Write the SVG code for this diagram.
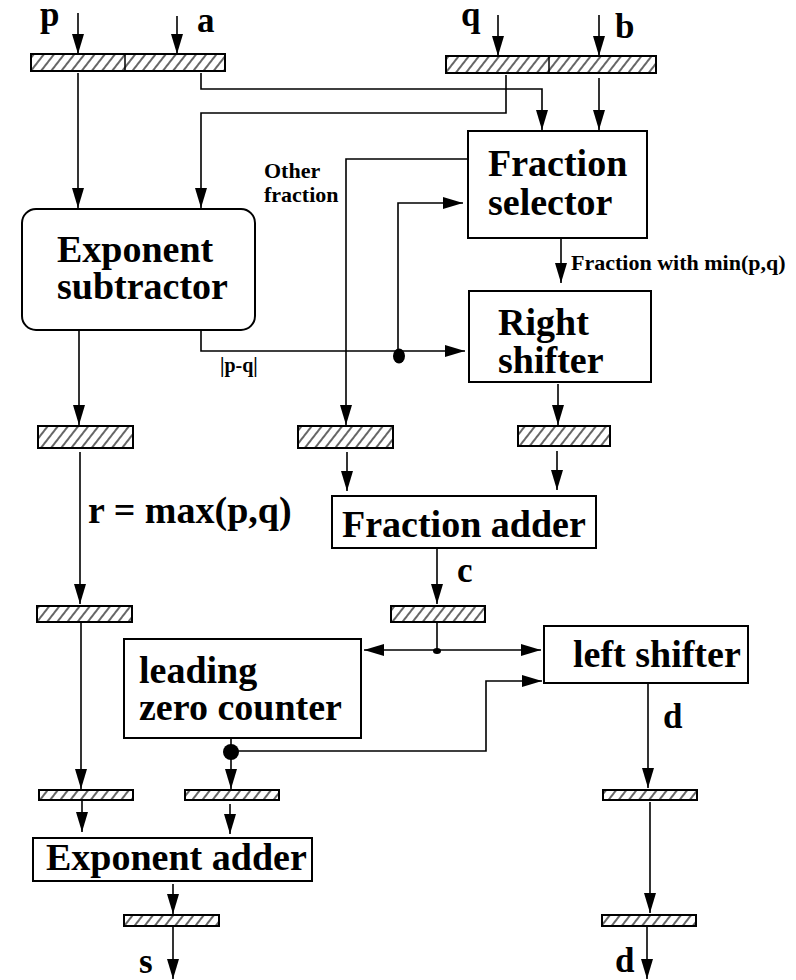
<svg xmlns="http://www.w3.org/2000/svg" width="796" height="980" viewBox="0 0 796 980">
  <style>
    .box { fill: #fff; stroke: #000; stroke-width: 2; }
    .reg { fill: url(#hatch); stroke: #000; stroke-width: 2; }
    .wire { fill: none; stroke: #000; stroke-width: 1.6; }
    .arr { marker-end: url(#head); }
    .t { font-family: "Liberation Serif", "Times New Roman", serif; font-weight: bold; fill: #000; }
    .big { font-size: 38px; }
    .lab { font-size: 35px; }
    .small { font-size: 22px; }
  </style>
  <defs>
    <pattern id="hatch" patternUnits="userSpaceOnUse" width="8" height="8" patternTransform="rotate(38)">
      <rect width="8" height="8" fill="#fff"/>
      <line x1="4" y1="0" x2="4" y2="8" stroke="#000" stroke-width="1.2"/>
    </pattern>
    <marker id="head" viewBox="0 0 20 12" refX="20" refY="6" markerWidth="20" markerHeight="12" markerUnits="userSpaceOnUse" orient="auto">
      <path d="M0,0 L20,6 L0,12 Z" fill="#000"/>
    </marker>
  </defs>

  <!-- pipeline registers -->
  <g id="registers">
    <g id="reg-pa"><rect class="reg" x="31" y="54" width="194" height="17"/><line x1="125" y1="54" x2="125" y2="71" stroke="#000" stroke-width="1.5"/></g>
    <g id="reg-qb"><rect class="reg" x="446" y="56" width="210" height="17"/><line x1="549" y1="56" x2="549" y2="73" stroke="#000" stroke-width="1.5"/></g>
    <g id="reg-exp"><rect class="reg" x="38" y="426" width="95" height="22"/></g>
    <g id="reg-other"><rect class="reg" x="298" y="426" width="95" height="22"/></g>
    <g id="reg-shift"><rect class="reg" x="518" y="426" width="92" height="20"/></g>
    <g id="reg-r"><rect class="reg" x="37" y="606" width="95" height="16"/></g>
    <g id="reg-c"><rect class="reg" x="391" y="606" width="94" height="16"/></g>
    <g id="reg-r2"><rect class="reg" x="39" y="790" width="94" height="10"/></g>
    <g id="reg-lz"><rect class="reg" x="185" y="790" width="94" height="10"/></g>
    <g id="reg-d1"><rect class="reg" x="603" y="790" width="94" height="10"/></g>
    <g id="reg-s"><rect class="reg" x="124" y="915" width="95" height="11"/></g>
    <g id="reg-d2"><rect class="reg" x="602" y="915" width="94" height="11"/></g>
  </g>

  <!-- functional units -->
  <g id="fraction-selector">
    <rect class="box" x="468" y="131" width="179" height="107"/>
    <text class="t big" x="488" y="176">Fraction</text>
    <text class="t big" x="488" y="215">selector</text>
  </g>
  <g id="exponent-subtractor">
    <rect class="box" x="22" y="209" width="233" height="121" rx="14" ry="14"/>
    <text class="t big" x="57" y="262">Exponent</text>
    <text class="t big" x="57" y="299">subtractor</text>
  </g>
  <g id="right-shifter">
    <rect class="box" x="469" y="291" width="182" height="91"/>
    <text class="t big" x="498" y="335">Right</text>
    <text class="t big" x="498" y="373">shifter</text>
  </g>
  <g id="fraction-adder">
    <rect class="box" x="332" y="496" width="264" height="52"/>
    <text class="t big" x="342" y="537">Fraction adder</text>
  </g>
  <g id="left-shifter">
    <rect class="box" x="544" y="626" width="204" height="57"/>
    <text class="t big" x="573" y="667">left shifter</text>
  </g>
  <g id="leading-zero-counter">
    <rect class="box" x="124" y="639" width="237" height="99"/>
    <text class="t big" x="139" y="683">leading</text>
    <text class="t big" x="139" y="720">zero counter</text>
  </g>
  <g id="exponent-adder">
    <rect class="box" x="33" y="838" width="279" height="43"/>
    <text class="t big" x="46" y="870">Exponent adder</text>
  </g>

  <!-- connectors -->
  <g id="connectors">
    <line class="wire arr" x1="78" y1="13" x2="78" y2="54"/>
    <line class="wire arr" x1="177" y1="16" x2="177" y2="54"/>
    <line class="wire arr" x1="498" y1="15" x2="498" y2="56"/>
    <line class="wire arr" x1="599" y1="15" x2="599" y2="56"/>

    <line class="wire arr" x1="78" y1="73" x2="78" y2="208"/>
    <polyline class="wire arr" points="201,73 201,89 542,89 542,130"/>
    <polyline class="wire arr" points="506,75 506,113 201,113 201,208"/>
    <line class="wire arr" x1="599" y1="78" x2="599" y2="130"/>

    <polyline class="wire arr" points="468,159 346,159 346,425"/>
    <line class="wire arr" x1="561" y1="238" x2="561" y2="283"/>

    <polyline class="wire arr" points="201,330 201,351 465,351"/>
    <polyline class="wire arr" points="398,356 398,203 463,203"/>
    <ellipse cx="399" cy="356" rx="6" ry="7.5" fill="#000"/>

    <line class="wire arr" x1="79" y1="330" x2="79" y2="425"/>
    <line class="wire arr" x1="558" y1="384" x2="558" y2="425"/>

    <line class="wire arr" x1="347" y1="452" x2="347" y2="491"/>
    <line class="wire arr" x1="557" y1="451" x2="557" y2="490"/>

    <line class="wire arr" x1="80" y1="452" x2="80" y2="604"/>
    <line class="wire arr" x1="437" y1="548" x2="437" y2="604"/>

    <line class="wire" x1="437" y1="622" x2="437" y2="650"/>
    <line class="wire arr" x1="437" y1="650" x2="364" y2="650"/>
    <line class="wire arr" x1="437" y1="650" x2="541" y2="650"/>
    <ellipse cx="437" cy="651" rx="4" ry="3" fill="#000"/>

    <line class="wire arr" x1="81" y1="622" x2="81" y2="789"/>
    <line class="wire arr" x1="231" y1="738" x2="231" y2="789"/>
    <polyline class="wire arr" points="231,751 486,751 486,681 542,681"/>
    <ellipse cx="231" cy="752" rx="8" ry="8" fill="#000"/>

    <line class="wire arr" x1="82" y1="801" x2="82" y2="832"/>
    <line class="wire arr" x1="230" y1="804" x2="230" y2="834"/>
    <line class="wire arr" x1="173" y1="884" x2="173" y2="914"/>
    <line class="wire arr" x1="173" y1="926" x2="173" y2="979"/>

    <line class="wire arr" x1="648" y1="683" x2="648" y2="788"/>
    <line class="wire arr" x1="650" y1="802" x2="650" y2="913"/>
    <line class="wire arr" x1="647" y1="926" x2="647" y2="979"/>
  </g>

  <!-- signal labels -->
  <g id="labels">
    <text class="t lab" x="40" y="26">p</text>
    <text class="t lab" x="197" y="32">a</text>
    <text class="t lab" x="461" y="26">q</text>
    <text class="t lab" x="615" y="38">b</text>
    <text class="t small" x="264" y="178">Other</text>
    <text class="t small" x="264" y="202">fraction</text>
    <text class="t small" x="571" y="270">Fraction with min(p,q)</text>
    <text class="t" x="220" y="372" font-size="20">|p-q|</text>
    <text class="t big" x="88" y="523">r = max(p,q)</text>
    <text class="t lab" x="457" y="582">c</text>
    <text class="t lab" x="663" y="728">d</text>
    <text class="t lab" x="139" y="973">s</text>
    <text class="t lab" x="615" y="972">d</text>
  </g>
</svg>
